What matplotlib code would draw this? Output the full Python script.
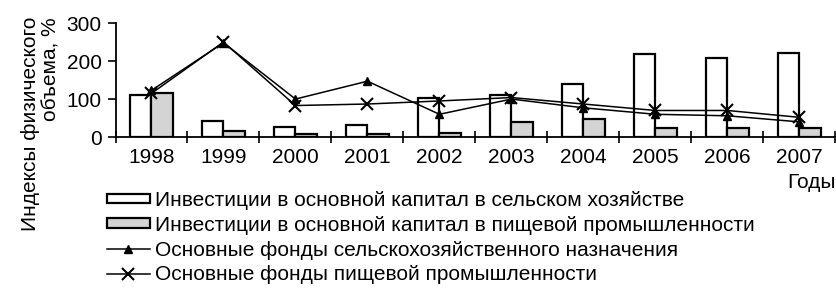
import numpy as np
import matplotlib
matplotlib.use("Agg")
import matplotlib.pyplot as plt

# data
years = ['1998', '1999', '2000', '2001', '2002', '2003', '2004', '2005', '2006', '2007']
inv_agri = [111, 43, 27, 33, 103, 111, 139, 218, 209, 221]
inv_food = [115, 16, 9, 9, 12, 39, 47, 25, 25, 25]
funds_agri = [123, 248, 100, 147, 60, 100, 77, 60, 56, 40]
funds_food = [115, 250, 83, 87, 95, 104, 87, 70, 70, 52]

plt.rcParams['font.family'] = ['Liberation Sans', 'DejaVu Sans']

fig = plt.figure(figsize=(8.37, 2.88), dpi=100)
ax = fig.add_axes([0.138, 0.524, 0.860, 0.396])

x = np.arange(len(years))
w = 0.3
b1 = ax.bar(x - w / 2, inv_agri, w, color='white', edgecolor='black', linewidth=1.6)
b2 = ax.bar(x + w / 2, inv_food, w, color='#d4d4d4', edgecolor='black', linewidth=1.6)
l1, = ax.plot(x, funds_agri, color='black', lw=1.1, marker='^', ms=6)
l2, = ax.plot(x, funds_food, color='black', lw=1.1, marker='x', ms=9, mew=1.5)

ax.set_xlim(-0.5, len(years) - 0.5)
ax.set_ylim(0, 300)
ax.set_yticks([0, 100, 200, 300])
ax.set_xticks(x)
ax.set_xticklabels(years)
ax.set_xticks(np.arange(-0.5, len(years)), minor=True)
ax.tick_params(axis='x', which='major', length=0, labelsize=15, pad=8)
ax.tick_params(axis='x', which='minor', length=8, direction='inout', width=1.2)
ax.tick_params(axis='y', labelsize=15, length=6, width=1.2, pad=4)
for s in ['top', 'right']:
    ax.spines[s].set_visible(False)
for s in ['left', 'bottom']:
    ax.spines[s].set_linewidth(1.3)

fig.text(0.998, 1 - 183 / 288, 'Годы', ha='right', va='center', fontsize=15)
fig.text(0.049, 1 - 17 / 288, 'Индексы физического\nобъема, %', rotation=90,
         ha='center', va='top', multialignment='right', fontsize=15, linespacing=1.1)

leg = fig.legend([b1, b2, l1, l2],
                 ['Инвестиции в основной капитал в сельском хозяйстве',
                  'Инвестиции в основной капитал в пищевой промышленности',
                  'Основные фонды сельскохозяйственного назначения',
                  'Основные фонды пищевой промышленности'],
                 loc='upper left', bbox_to_anchor=(0.128, 1 - 191 / 288),
                 frameon=False, prop={'size': 15},
                 handlelength=2.05, handleheight=0.35, handletextpad=0.25,
                 labelspacing=0.28, borderpad=0, borderaxespad=0)

fig.savefig('out.png', dpi=100)
